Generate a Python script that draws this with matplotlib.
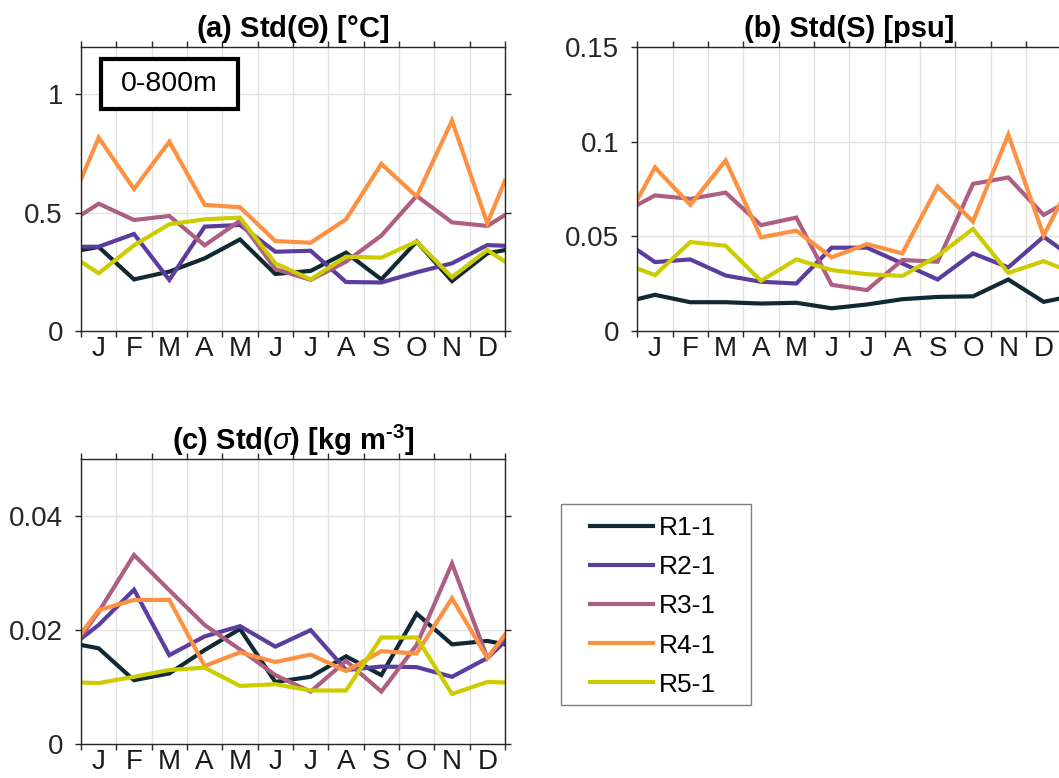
import numpy as np
import matplotlib
matplotlib.use('Agg')
import matplotlib.pyplot as plt
from matplotlib.patches import Rectangle

plt.rcParams['font.family'] = ['Liberation Sans', 'DejaVu Sans']
plt.rcParams['mathtext.fontset'] = 'custom'
plt.rcParams['mathtext.rm'] = 'Liberation Sans:bold'
plt.rcParams['mathtext.it'] = 'Liberation Sans:italic'
plt.rcParams['mathtext.bf'] = 'Liberation Sans:bold'

# months, with the periodic end points at 0 and 12
months = ['J', 'F', 'M', 'A', 'M', 'J', 'J', 'A', 'S', 'O', 'N', 'D']
xpos = [0, 0.5, 1.5, 2.5, 3.5, 4.5, 5.5, 6.5, 7.5, 8.5, 9.5, 10.5, 11.5, 12]
runs = ['R1-1', 'R2-1', 'R3-1', 'R4-1', 'R5-1']
colors = ['#0f2a33', '#5b3d9e', '#ad5f82', '#fd9142', '#cccc00']

# std of potential temperature, 0-800m
theta_r1 = [0.342, 0.355, 0.218, 0.251, 0.307, 0.387, 0.241, 0.254, 0.331, 0.218, 0.378, 0.211, 0.328, 0.342]
theta_r2 = [0.356, 0.356, 0.410, 0.216, 0.441, 0.448, 0.335, 0.339, 0.207, 0.205, 0.248, 0.286, 0.363, 0.360]
theta_r3 = [0.490, 0.538, 0.469, 0.486, 0.362, 0.466, 0.262, 0.216, 0.293, 0.403, 0.571, 0.459, 0.444, 0.490]
theta_r4 = [0.641, 0.817, 0.600, 0.800, 0.533, 0.523, 0.380, 0.373, 0.472, 0.706, 0.568, 0.889, 0.455, 0.635]
theta_r5 = [0.293, 0.244, 0.362, 0.451, 0.472, 0.479, 0.286, 0.218, 0.314, 0.310, 0.378, 0.227, 0.342, 0.293]

# std of salinity
salt_r1 = [0.0168, 0.0191, 0.0152, 0.0152, 0.0145, 0.0149, 0.0120, 0.0140, 0.0168, 0.0180, 0.0183, 0.0272, 0.0154, 0.0173]
salt_r2 = [0.0428, 0.0364, 0.0378, 0.0293, 0.0260, 0.0251, 0.0440, 0.0440, 0.0357, 0.0272, 0.0410, 0.0336, 0.0498, 0.0431]
salt_r3 = [0.0666, 0.0716, 0.0698, 0.0731, 0.0559, 0.0599, 0.0244, 0.0216, 0.0375, 0.0366, 0.0777, 0.0811, 0.0613, 0.0665]
salt_r4 = [0.0693, 0.0864, 0.0666, 0.0901, 0.0495, 0.0530, 0.0389, 0.0459, 0.0410, 0.0763, 0.0578, 0.1037, 0.0504, 0.0684]
salt_r5 = [0.0330, 0.0295, 0.0470, 0.0450, 0.0265, 0.0378, 0.0322, 0.0300, 0.0291, 0.0396, 0.0539, 0.0307, 0.0369, 0.0332]

# std of potential density
sig_r1 = [0.0174, 0.0168, 0.0112, 0.0124, 0.0165, 0.0202, 0.0109, 0.0118, 0.0154, 0.0121, 0.0229, 0.0175, 0.0181, 0.0175]
sig_r2 = [0.0185, 0.0209, 0.0271, 0.0156, 0.0189, 0.0207, 0.0171, 0.0200, 0.0130, 0.0136, 0.0135, 0.0118, 0.0151, 0.0180]
sig_r3 = [0.0189, 0.0232, 0.0332, 0.0270, 0.0209, 0.0166, 0.0121, 0.0092, 0.0146, 0.0092, 0.0174, 0.0317, 0.0151, 0.0190]
sig_r4 = [0.0194, 0.0235, 0.0253, 0.0253, 0.0137, 0.0161, 0.0144, 0.0157, 0.0128, 0.0163, 0.0159, 0.0256, 0.0151, 0.0192]
sig_r5 = [0.0108, 0.0107, 0.0118, 0.0130, 0.0134, 0.0102, 0.0105, 0.0094, 0.0094, 0.0187, 0.0187, 0.0088, 0.0109, 0.0108]

theta = [theta_r1, theta_r2, theta_r3, theta_r4, theta_r5]
salt = [salt_r1, salt_r2, salt_r3, salt_r4, salt_r5]
sig = [sig_r1, sig_r2, sig_r3, sig_r4, sig_r5]

W, H = 1059, 778
fig = plt.figure(figsize=(W/100, H/100), dpi=100)

def px_axes(left, top, width, height):
    return fig.add_axes([left/W, 1 - (top+height)/H, width/W, height/H])

def setup(ax, data, ylim, yticks, ylabels, title):
    for d, c, lab in zip(data, colors, runs):
        ax.plot(xpos, d, color=c, lw=3, label=lab, solid_joinstyle='miter')
    ax.set_xlim(0, 12)
    ax.set_ylim(*ylim)
    ax.set_xticks(range(13))
    ax.set_xticklabels([])
    ax.set_xticks(np.arange(0.5, 12, 1), minor=True)
    ax.set_xticklabels(months, minor=True, fontsize=20)
    ax.set_yticks(yticks)
    ax.set_yticklabels(ylabels, fontsize=20, color='#262626')
    ax.tick_params(which='major', direction='out', length=4, width=1,
                   top=True, right=True, color='#262626')
    ax.tick_params(axis='x', which='minor', length=0, pad=3.5, labelcolor='#1a1a1a')
    ax.tick_params(axis='y', pad=9)
    ax.grid(True, which='major', color='#e1e1e1', lw=1)
    ax.set_axisbelow(True)
    for s in ax.spines.values():
        s.set_color('#262626')
        s.set_linewidth(1)
    ax.set_title(title, fontsize=21, fontweight='bold', pad=7)

ax1 = px_axes(81, 47, 424, 284)
setup(ax1, theta, (0, 1.2), [0, 0.5, 1], ['0', '0.5', '1'], r'(a) Std($\Theta$) [°C]')
ax1.add_patch(Rectangle((0.0465, 0.782), 0.3235, 0.175, transform=ax1.transAxes,
                        fill=True, facecolor='white', edgecolor='black', lw=3, zorder=5))
ax1.text(0.208, 0.869, '0-800m', transform=ax1.transAxes, fontsize=20.5,
         ha='center', va='center', zorder=6)

ax2 = px_axes(637.3, 47, 424, 284)
setup(ax2, salt, (0, 0.15), [0, 0.05, 0.1, 0.15], ['0', '0.05', '0.1', '0.15'], '(b) Std(S) [psu]')

ax3 = px_axes(81, 459.3, 424, 284.7)
setup(ax3, sig, (0, 0.05), [0, 0.02, 0.04], ['0', '0.02', '0.04'],
      r'(c) Std($\sigma$) [kg m$^{\text{-}3}$]')

# legend with its own frame
fig.patches.append(Rectangle((561/W, 1 - 705/H), 190/W, 201/H, transform=fig.transFigure,
                             facecolor='white', edgecolor='#7f7f7f', lw=1))
handles, labels = ax3.get_legend_handles_labels()
fig.legend(handles, labels, loc='upper left', bbox_to_anchor=(590/W, 1 - 516/H),
           frameon=False, fontsize=19, borderpad=0, borderaxespad=0,
           handlelength=2.39, handletextpad=0.23, labelspacing=0.575)

plt.savefig('out.png', dpi=100)
